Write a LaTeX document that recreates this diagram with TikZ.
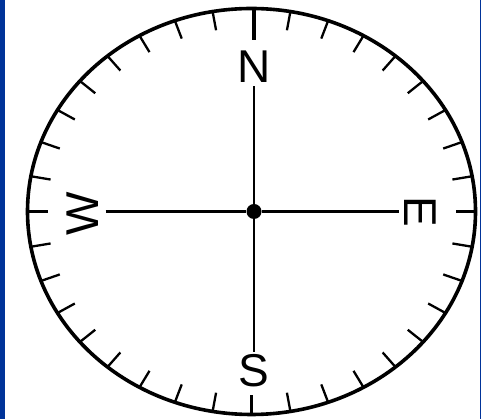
\documentclass[tikz,border=0pt]{standalone}
\usepackage{fontspec}
\setmainfont{Liberation Sans}
\usetikzlibrary{calc}
\definecolor{frameblue}{RGB}{0, 51, 153}

\begin{document}
\begin{tikzpicture}[
  x=1pt, y=1pt,
  rim/.style={draw=black, line width=3.6pt},
  tick/.style={draw=black, line width=2.3pt},
  northtick/.style={draw=black, line width=4.5pt},
  axis/.style={draw=black, line width=2.6pt},
  point/.style={
    font=\fontsize{46}{46}\selectfont,
    inner sep=3pt
  }
]
  \useasboundingbox (0,0) rectangle (481,419);

  % Blue frame edges
  \fill[frameblue] (0,0) rectangle (5,419);
  \fill[frameblue] (480,0) rectangle (481,419);

  % Dial
  \coordinate (centre) at (251.5,207.5);
  \draw[rim] (centre) ellipse [x radius=224, y radius=203];

  % Ticks every 10 degrees
  \foreach \a in {0,10,...,350} {
    \ifnum\a=90\else
      \draw[tick] ($(centre)+({224*cos(\a)},{203*sin(\a)})$)
        -- ($(centre)+({204*cos(\a)},{184*sin(\a)})$);
    \fi
  }
  \draw[northtick] ($(centre)+(2.5,203)$) -- ($(centre)+(2.5,171)$);

  % Cardinal points
  \node[point] (N) at (254,352) {N};
  \node[point] (S) at (254,48) {S};
  \node[point, rotate=90, inner sep=7pt] (W) at (82.5,205) {W};
  \node[point, rotate=-90, inner sep=5pt] (E) at (420,207.5) {E};

  % Cross and hub
  \node[circle, fill=black, minimum size=15pt, inner sep=0pt] (hub) at (254,207.5) {};
  \draw[axis] (N.south) -- (hub) -- (S.north);
  \draw[axis] (W.south |- hub) -- (hub) -- (E.south |- hub);
\end{tikzpicture}
\end{document}
